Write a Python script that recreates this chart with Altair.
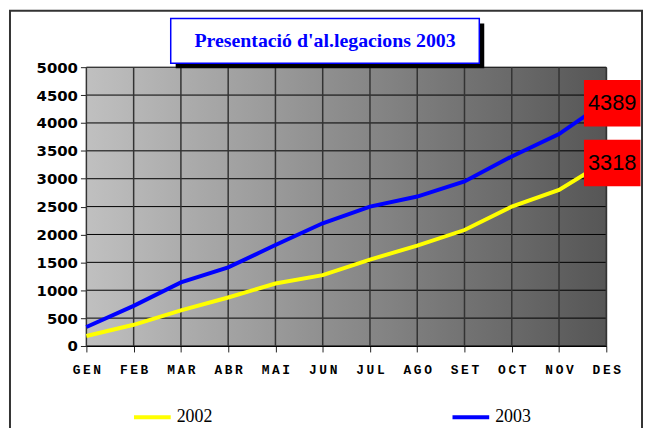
import altair as alt
import pandas as pd

months = ["GEN", "FEB", "MAR", "ABR", "MAI", "JUN", "JUL", "AGO", "SET", "OCT", "NOV", "DES"]
v2002 = [180, 380, 640, 870, 1120, 1270, 1550, 1800, 2080, 2500, 2800, 3318]
v2003 = [340, 720, 1140, 1410, 1810, 2200, 2500, 2680, 2950, 3400, 3800, 4389]
y_ticks = list(range(0, 5001, 500))
title_text = "Presentació d'al.legacions 2003"

W, H = 524, 281

rows = []
for m, a, b in zip(months, v2002, v2003):
    rows.append({"mes": m, "valor": a, "any": "2002"})
    rows.append({"mes": m, "valor": b, "any": "2003"})
df = pd.DataFrame(rows)
last = pd.DataFrame({"mes": [months[-1]] * 2, "valor": [v2002[-1], v2003[-1]],
                     "txt": [str(v2002[-1]), str(v2003[-1])]})
ticks_df = pd.DataFrame({"valor": y_ticks})
months_df = pd.DataFrame({"mes": months})
one = pd.DataFrame({"k": [0]})

xs = alt.Scale(type="point", domain=months, padding=0)
ys = alt.Scale(domain=[0, 5000], nice=False)

xaxis = alt.Axis(title=None, labelAngle=0, grid=False, labelFont="Liberation Mono",
                 labelFontWeight="bold", labelFontSize=13, labelColor="black",
                 labelPadding=12, tickSize=6, tickColor="#222", domainColor="#000",
                 labelExpr="join(split(datum.label, ''), '\u2009')")
yaxis = alt.Axis(title=None, values=y_ticks, format="d", grid=False, labelFont="DejaVu Sans",
                 labelFontWeight="bold", labelFontSize=15, labelColor="black",
                 labelPadding=3, tickSize=6, tickColor="#222", domainColor="#444")

frame = alt.Chart(one).mark_rect(filled=False, stroke="#333", strokeWidth=2).encode(
    x=alt.value(-77), x2=alt.value(560), y=alt.value(-57), y2=alt.value(440))

bg = alt.Chart(one).mark_rect(color=alt.Gradient(
    gradient="linear",
    stops=[alt.GradientStop(color="#C0C0C0", offset=0),
           alt.GradientStop(color="#565656", offset=1)],
    x1=0, x2=1, y1=0, y2=0)).encode(
    x=alt.value(0), x2=alt.value(W), y=alt.value(0), y2=alt.value(H))

hgrid = alt.Chart(ticks_df).mark_rule(color="#000", strokeWidth=1).encode(
    y=alt.Y("valor:Q", scale=ys, axis=yaxis))
vgrid = alt.Chart(months_df).mark_rule(color="#333", strokeWidth=1.5).encode(
    x=alt.X("mes:N", scale=xs, sort=months, axis=xaxis))

lines = alt.Chart(df).mark_line(strokeWidth=4).encode(
    x=alt.X("mes:N", scale=xs, sort=months, axis=xaxis),
    y=alt.Y("valor:Q", scale=ys, axis=yaxis),
    color=alt.Color("any:N", scale=alt.Scale(domain=["2002", "2003"], range=["#FFFF00", "#0000FF"]),
                    legend=alt.Legend(title=None, orient="none", legendX=46, legendY=332,
                                      direction="horizontal", symbolType="stroke",
                                      symbolSize=1369, symbolStrokeWidth=4,
                                      labelFont="Liberation Serif", labelFontSize=18,
                                      labelColor="black", labelOffset=4, columnPadding=234)),
    detail="any:N")

boxes = alt.Chart(last).mark_rect(width=57, height=47, color="#FF0000", xOffset=6, yOffset=2).encode(
    x=alt.X("mes:N", scale=xs, sort=months, axis=xaxis),
    y=alt.Y("valor:Q", scale=ys, axis=yaxis))
labels = alt.Chart(last).mark_text(font="Liberation Sans", fontSize=22, color="black",
                                   xOffset=6, yOffset=2, align="center", baseline="middle").encode(
    x=alt.X("mes:N", scale=xs, sort=months, axis=xaxis),
    y=alt.Y("valor:Q", scale=ys, axis=yaxis),
    text="txt:N")

shadow = alt.Chart(one).mark_rect(color="#000").encode(
    x=alt.value(90), x2=alt.value(401), y=alt.value(-44), y2=alt.value(1))
tbox = alt.Chart(one).mark_rect(fill="#FFFFFF", stroke="#0000FF", strokeWidth=1.5).encode(
    x=alt.value(85), x2=alt.value(396), y=alt.value(-49), y2=alt.value(-4))
ttext = alt.Chart(one).mark_text(text=title_text, font="Liberation Serif", fontWeight="bold",
                                 fontSize=20, color="#0000FF", align="center",
                                 baseline="middle").encode(
    x=alt.value(240.5), y=alt.value(-26))

chart = alt.layer(frame, bg, hgrid, vgrid, lines, boxes, labels, shadow, tbox, ttext).properties(
    width=W, height=H,
    padding={"left": 79, "top": 58, "right": 37, "bottom": 81},
    autosize=alt.AutoSizeParams(type="none"),
    background="white",
).configure_view(stroke="#777", strokeWidth=1)

chart.save("out.html", embed_options={"renderer": "svg", "actions": False})
